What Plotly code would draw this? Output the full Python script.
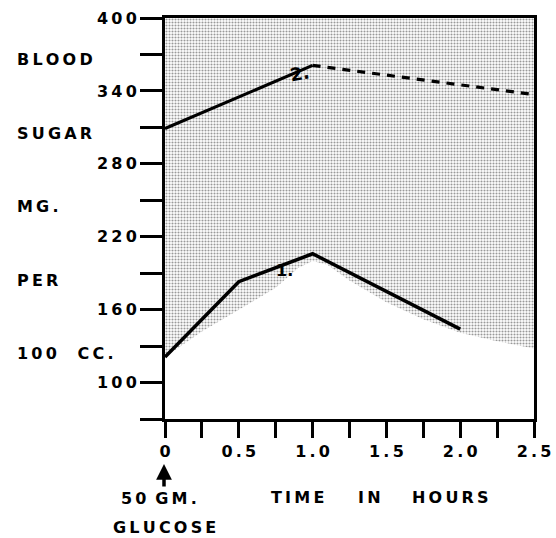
import plotly.graph_objects as go

# ---- data ----
time_h = [0, 0.5, 1.0, 2.0]
curve1 = [121, 183, 206, 144]          # curve "1." (solid)

c2_solid_x = [0, 1.0]
c2_solid_y = [309, 361]                 # curve "2." solid part
c2_dash_x = [1.0, 2.0, 2.5]
c2_dash_y = [361, 345, 337]             # curve "2." dashed part

shade_x = [0, 0.25, 0.5, 0.75, 0.9, 1.0, 1.1, 1.25, 1.5, 1.75, 2.0, 2.25, 2.5]
shade_lower = [121, 142, 160, 178, 194, 200, 197, 184, 166, 152, 141, 134, 128]
y_top = 400

y_tickvals = [70, 100, 130, 160, 190, 220, 250, 280, 310, 340, 370, 400]
y_ticktext = ["", "100", "", "160", "", "220", "", "280", "", "340", "", "400"]
x_tickvals = [0, 0.25, 0.5, 0.75, 1.0, 1.25, 1.5, 1.75, 2.0, 2.25, 2.5]
x_ticktext = ["0", "", "0.5", "", "1.0", "", "1.5", "", "2.0", "", "2.5"]

y_words = ["BLOOD", "SUGAR", "MG.", "PER", "100  CC."]
y_word_vals = [365.5, 305, 244.5, 184, 123.5]

TS = "\u2009"  # thin space for letter spacing


def spaced(s):
    return TS.join(list(s))


FONT = "DejaVu Sans"
W, H = 556, 538
L, R, T, B = 165, 22, 18, 119
PW, PH = W - L - R, H - T - B


def px(xp):
    return (xp - L) / PW


def py(yp):
    return (H - B - yp) / PH


fig = go.Figure()

# stippled region
fig.add_trace(go.Scatter(
    x=shade_x + shade_x[::-1],
    y=shade_lower + [y_top] * len(shade_x),
    fill="toself", mode="lines", line=dict(width=0),
    fillcolor="rgba(0,0,0,0)",
    fillpattern=dict(shape=".", size=3, solidity=0.4, fgcolor="#333", bgcolor="white"),
    hoverinfo="skip", showlegend=False))

fig.add_trace(go.Scatter(x=time_h, y=curve1, mode="lines",
                         line=dict(color="black", width=3.5), showlegend=False))
fig.add_trace(go.Scatter(x=c2_solid_x, y=c2_solid_y, mode="lines",
                         line=dict(color="black", width=3.2), showlegend=False))
fig.add_trace(go.Scatter(x=c2_dash_x, y=c2_dash_y, mode="lines",
                         line=dict(color="black", width=3.2, dash="8px,7px"), showlegend=False))

tickfont = dict(family=FONT, size=16, color="black", weight="bold")

fig.update_xaxes(range=[0, 2.5], tickvals=x_tickvals, ticktext=[spaced(t) for t in x_ticktext],
                 ticks="outside", ticklen=16, tickwidth=3, tickcolor="black",
                 showline=True, linewidth=3, linecolor="black", mirror=True,
                 showgrid=False, zeroline=False, tickfont=tickfont, automargin=False)
fig.update_yaxes(range=[70, 400], tickvals=y_tickvals, ticktext=[spaced(t) for t in y_ticktext],
                 ticks="outside", ticklen=22, tickwidth=3, tickcolor="black",
                 showline=True, linewidth=3, linecolor="black", mirror=True,
                 showgrid=False, zeroline=False, tickfont=tickfont, automargin=False)

lab = dict(family=FONT, size=16, color="black", weight="bold")
ann = []
for w, v in zip(y_words, y_word_vals):
    ann.append(dict(text=spaced(w), xref="paper", yref="y", x=px(15), y=v,
                    xanchor="left", yanchor="middle", showarrow=False, font=lab))


def bottom(text, xc, yc, size=16):
    return dict(text=text, xref="paper", yref="paper", x=px(xc), y=py(yc),
                xanchor="center", yanchor="middle", showarrow=False,
                font=dict(family=FONT, size=size, color="black", weight="bold"))


ann.append(bottom(spaced("50") + "\u00a0\u2009" + spaced("GM."), 159, 498))
ann.append(bottom(spaced("GLUCOSE"), 164, 527))
for w, xc in [("TIME", 297), ("IN", 369), ("HOURS", 450)]:
    ann.append(bottom(spaced(w), xc, 497))
# arrow under 0
ann.append(dict(text="", xref="paper", yref="paper", x=px(164), y=py(464),
                ax=0, ay=24, showarrow=True, arrowhead=2, arrowsize=0.9,
                arrowwidth=3.5, arrowcolor="black", standoff=0))
# curve labels
ann.append(dict(text="2.", x=0.91, y=354, xref="x", yref="y", showarrow=False,
                xanchor="center", yanchor="middle",
                font=dict(family=FONT, size=18, color="black", weight="bold"), textangle=-10))
ann.append(dict(text="1.", x=0.81, y=192, xref="x", yref="y", showarrow=False,
                xanchor="center", yanchor="middle",
                font=dict(family=FONT, size=16, color="black", weight="bold")))

fig.update_layout(width=W, height=H, margin=dict(l=L, r=R, t=T, b=B, autoexpand=False),
                  autosize=False,
                  plot_bgcolor="white", paper_bgcolor="white",
                  annotations=ann, showlegend=False)

fig.write_html("out.html", config={"responsive": False, "displayModeBar": False},
               post_script="document.body.style.margin='0px';document.body.style.overflow='hidden';")
